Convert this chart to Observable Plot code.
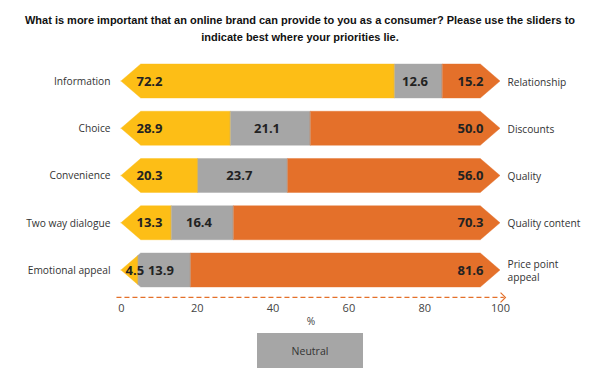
<!DOCTYPE html>
<html>
<head>
<meta charset="utf-8">
<script src="https://cdn.jsdelivr.net/npm/d3@7"></script>
<script src="https://cdn.jsdelivr.net/npm/@observablehq/plot@0.6"></script>
<style>
  html, body { margin: 0; padding: 0; background: #fff; width: 600px; height: 378px; overflow: hidden; }
  #title { position: absolute; left: 0; top: 12px; width: 600px; text-align: center;
    font-family: "Liberation Sans", Arial, sans-serif; font-weight: bold; font-size: 11px; line-height: 17px; color: #111; }
  #chart { position: absolute; left: 0; top: 48px; }
  #legend { position: absolute; left: 257px; top: 333px; width: 106px; height: 35px; background: #a6a6a6;
    font-family: "Open Sans", sans-serif; font-size: 10.5px; color: #333; display: flex; align-items: center; justify-content: center; }
</style>
</head>
<body>
<div id="title">What is more important that an online brand can provide to you as a consumer? Please use the sliders to<br>indicate best where your priorities lie.</div>
<div id="chart"></div>
<div id="legend">Neutral</div>
<script>
const leftLabels = ["Information", "Choice", "Convenience", "Two way dialogue", "Emotional appeal"];
const rightLabels = ["Relationship", "Discounts", "Quality", "Quality content", "Price point\nappeal"];
const leftValues = [72.2, 28.9, 20.3, 13.3, 4.5];
const neutralValues = [12.6, 21.1, 23.7, 16.4, 13.9];
const rightValues = [15.2, 50.0, 56.0, 70.3, 81.6];
const xTicks = [0, 20, 40, 60, 80, 100];
const axisTitle = "%";

const YELLOW = "#fdbe16", GRAY = "#a6a6a6", ORANGE = "#e4702a";
const A = 5.2;   // arrow depth (x units)
const H = 0.36;  // bar half-height (row units)
const AXIS_ROW = 4.57;

const half = x => H * Math.max(0, Math.min(1, x / A, (100 - x) / A));

const areaPts = [];
leftLabels.forEach((_, i) => {
  const L = leftValues[i], N = neutralValues[i];
  const segs = [[0, L, YELLOW], [L, L + N, GRAY], [L + N, L + N + rightValues[i], ORANGE]];
  segs.forEach(([x0, x1, c], j) => {
    const xs = [x0, ...[A, 100 - A].filter(b => b > x0 && b < x1), x1];
    xs.forEach(x => areaPts.push({key: i + "-" + j, x, y1: i - half(x), y2: i + half(x), color: c}));
  });
});

const rows = leftLabels.map((l, i) => ({
  i, left: l, right: rightLabels[i],
  L: leftValues[i], N: neutralValues[i], R: rightValues[i]
}));

const valueFont = {fontFamily: "'Open Sans', sans-serif", fontWeight: "bold", fontSize: 13, fill: "#222"};
const labelFont = {fontFamily: "'Open Sans', sans-serif", fontSize: 10.2, fill: "#333"};

// open chevron symbol for the axis arrow head
const chevron = {
  draw(ctx, size) {
    const s = Math.sqrt(size) / 2;
    ctx.moveTo(-s, -s);
    ctx.lineTo(0, 0);
    ctx.lineTo(-s, s);
  }
};

const narrowRows = rows.filter(d => d.L < 8);
const wideRows = rows.filter(d => d.L >= 8);

const plot = Plot.plot({
  width: 600,
  height: 280,
  marginTop: 0, marginBottom: 31, marginLeft: 0, marginRight: 0,
  x: {domain: [0, 100], range: [121, 500], axis: null},
  y: {domain: [0, 4], range: [33, 222], axis: null},
  color: {type: "identity"},
  marks: [
    Plot.areaY(areaPts, {x: "x", y1: "y1", y2: "y2", z: "key", fill: "color", stroke: "color", strokeWidth: 0.4, curve: "linear"}),
    Plot.text(rows, {x: 0, y: "i", text: "left", textAnchor: "end", dx: -11, ...labelFont}),
    Plot.text(rows, {x: 100, y: "i", text: "right", textAnchor: "start", dx: 7, lineHeight: 1.25, ...labelFont}),
    Plot.text(wideRows, {x: 0, y: "i", text: d => d.L.toFixed(1), textAnchor: "start", dx: 15, ...valueFont}),
    Plot.text(narrowRows, {x: 0, y: "i", text: d => d.L.toFixed(1), textAnchor: "start", dx: 4, ...valueFont}),
    Plot.text(rows, {x: d => d.L + d.N / 2, y: "i", text: d => d.N.toFixed(1), dx: -4, ...valueFont}),
    Plot.text(rows, {x: 100, y: "i", text: d => d.R.toFixed(1), textAnchor: "end", dx: -17, ...valueFont}),
    Plot.ruleY([AXIS_ROW], {x1: -1.2, x2: 101, stroke: ORANGE, strokeWidth: 1.3, strokeDasharray: "5,3"}),
    Plot.dot([AXIS_ROW], {x: 101.3, y: d => d, symbol: chevron, r: 5.5, stroke: ORANGE, strokeWidth: 1.2, fill: "none"}),
    Plot.text(xTicks, {x: d => d, frameAnchor: "bottom", dy: 14, text: d => String(d), ...labelFont, fill: "#444", fontSize: 11}),
    Plot.text([axisTitle], {x: 50, frameAnchor: "bottom", dy: 27, text: d => d, ...labelFont, fill: "#444"})
  ]
});
document.getElementById("chart").appendChild(plot);
</script>
</body>
</html>
